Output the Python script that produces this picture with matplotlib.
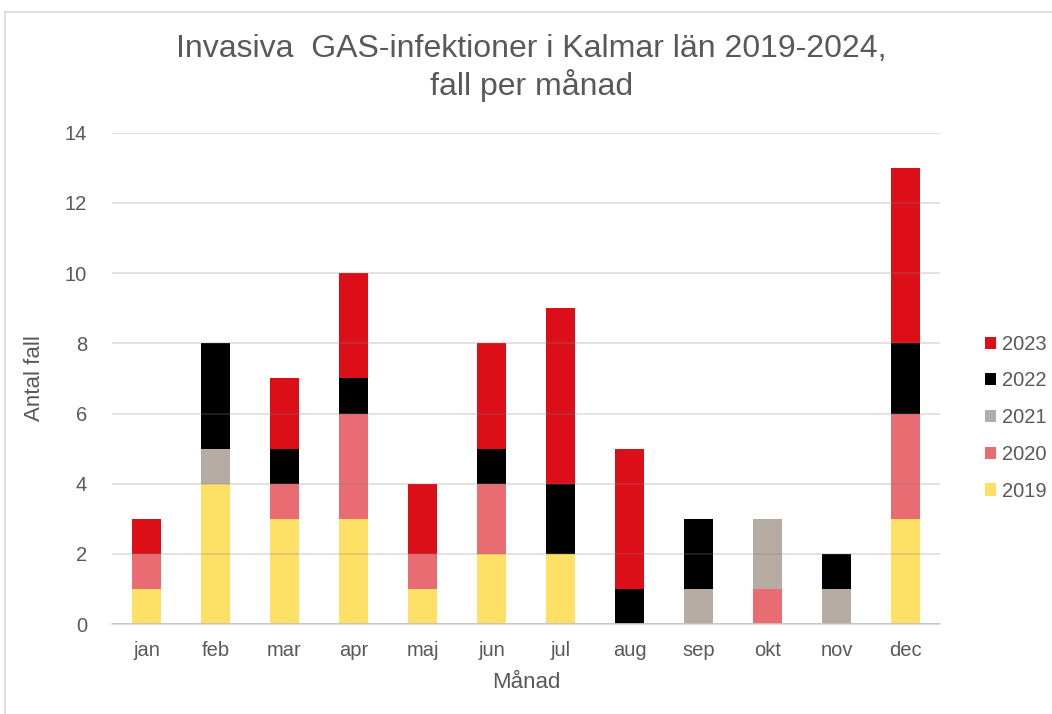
import numpy as np
import matplotlib.pyplot as plt
from matplotlib.lines import Line2D

# Cases per month, one list per year
months = ["jan", "feb", "mar", "apr", "maj", "jun", "jul", "aug", "sep", "okt", "nov", "dec"]
years = ["2019", "2020", "2021", "2022", "2023"]
cases_2019 = [1, 4, 3, 3, 1, 2, 2, 0, 0, 0, 0, 3]
cases_2020 = [1, 0, 1, 3, 1, 2, 0, 0, 0, 1, 0, 3]
cases_2021 = [0, 1, 0, 0, 0, 0, 0, 0, 1, 2, 1, 0]
cases_2022 = [0, 3, 1, 1, 0, 1, 2, 1, 2, 0, 1, 2]
cases_2023 = [1, 0, 2, 3, 2, 3, 5, 4, 0, 0, 0, 5]
yticks = [0, 2, 4, 6, 8, 10, 12, 14]

series = [cases_2019, cases_2020, cases_2021, cases_2022, cases_2023]
colors = ["#FFE066", "#E96C72", "#B6ACA3", "#000000", "#DC0E17"]

plt.rcParams["font.family"] = ["Liberation Sans", "DejaVu Sans"]
grey = "#595959"

fig = plt.figure(figsize=(10.52, 7.14), dpi=100)
ax = fig.add_axes([0.1065, 0.126, 0.787, 0.688])

x = np.arange(len(months))
bottom = np.zeros(len(months))
handles = []
for year, vals, col in zip(years, series, colors):
    b = ax.bar(x, vals, width=0.41, bottom=bottom, color=col, label=year, zorder=2)
    bottom += np.array(vals)
    handles.append(b)

ax.set_xlim(-0.5, len(months) - 0.5)
ax.set_ylim(0, 14)
ax.set_yticks(yticks)
ax.set_xticks(x)
ax.set_xticklabels(months)
ax.tick_params(axis="both", length=0, colors=grey, labelsize=14.5, pad=12)
ax.tick_params(axis="y", pad=18)
for sp in ["top", "right", "left"]:
    ax.spines[sp].set_visible(False)
ax.spines["bottom"].set_color("#D9D9D9")
ax.spines["bottom"].set_linewidth(1.3)
ax.grid(axis="y", color="#808080", alpha=0.25, linewidth=1.3, zorder=3)
ax.set_axisbelow(False)

ax.set_xlabel("Månad", color=grey, fontsize=16, labelpad=9)
ax.set_ylabel("Antal fall", color=grey, fontsize=16, labelpad=14)

fig.text(0.505, 0.905, "Invasiva  GAS-infektioner i Kalmar län 2019-2024,\nfall per månad",
         ha="center", va="center", fontsize=23, color=grey, linespacing=1.2)

leg = ax.legend(handles[::-1], years[::-1], loc="center left",
                bbox_to_anchor=(1.045, 0.42), frameon=False, fontsize=14.5,
                handlelength=0.55, handleheight=0.55, handletextpad=0.3,
                labelspacing=0.88, borderaxespad=0)
for t in leg.get_texts():
    t.set_color(grey)

# light frame along top and left edge
fig.add_artist(Line2D([0.005, 1.0], [0.983, 0.983], color="#D9D9D9", linewidth=1.2))
fig.add_artist(Line2D([0.005, 0.005], [0.0, 0.983], color="#D9D9D9", linewidth=1.2))

fig.savefig("out.png", dpi=100)
